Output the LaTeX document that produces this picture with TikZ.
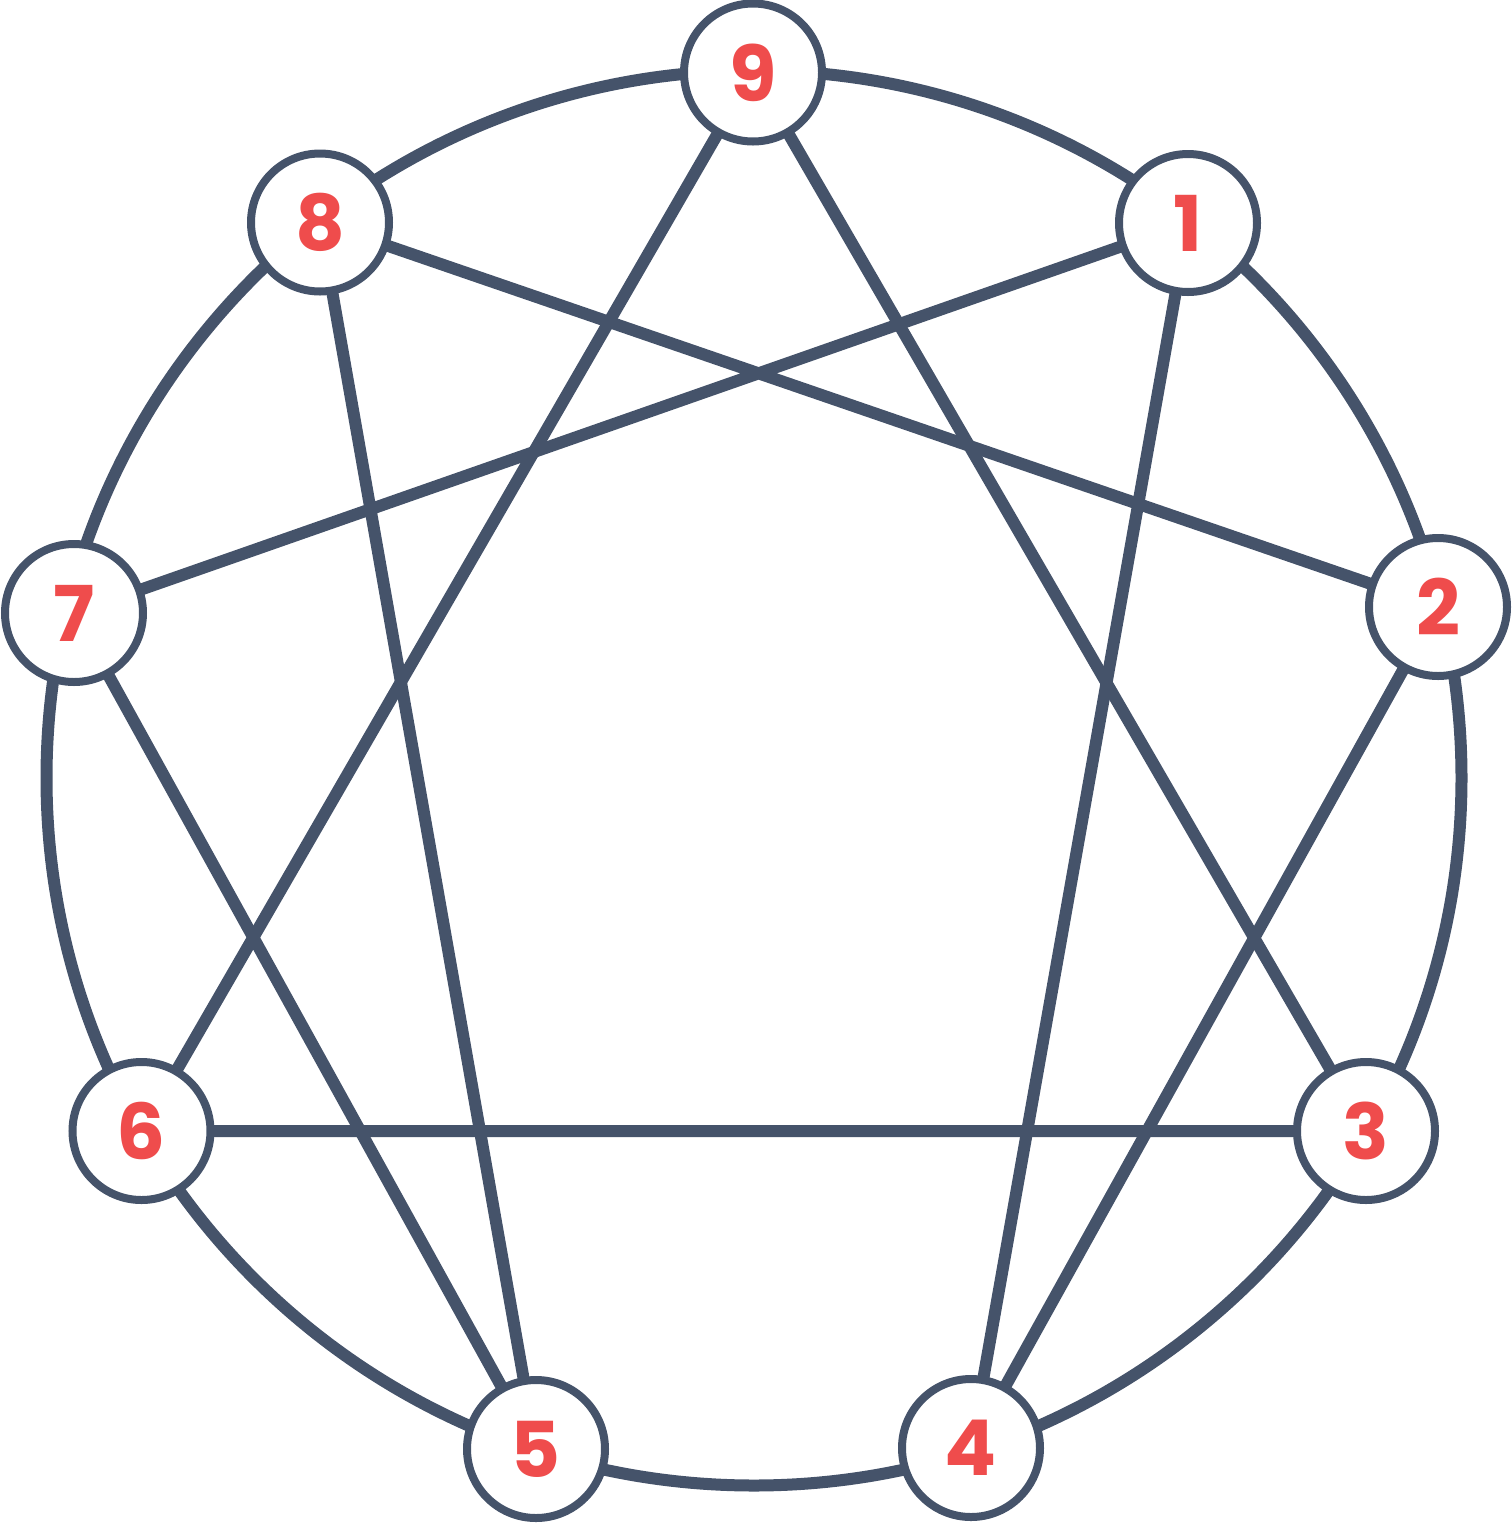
\documentclass[tikz,border=0pt]{standalone}
\usepackage{fontspec}
\setmainfont{Poppins}
\usetikzlibrary{backgrounds}
\definecolor{ink}{HTML}{45536A}
\definecolor{numred}{HTML}{EF4C4C}
\begin{document}
\begin{tikzpicture}[x=1pt,y=-1pt,
  pt/.style={circle, draw=ink, line width=8pt, fill=white, minimum size=138pt, inner sep=0pt, text=numred, font=\fontsize{77}{80}\selectfont\bfseries},
  edge/.style={draw=ink, line width=12pt}]
\useasboundingbox (0,0) rectangle (1512,1524);
\coordinate (c) at (754,778);
\node[pt] (n9) at (753,72.5) {9};
\node[pt] (n1) at (1188,223) {1};
\node[pt] (n2) at (1438,607) {2};
\node[pt] (n3) at (1366,1131) {3};
\node[pt] (n4) at (971,1448) {4};
\node[pt] (n5) at (536,1449) {5};
\node[pt] (n6) at (141.5,1131) {6};
\node[pt] (n7) at (74,613) {7};
\node[pt] (n8) at (320,222.5) {8};
\begin{scope}[on background layer]
\draw[edge] (c) circle[radius=707.5pt];
\draw[edge] (n9.center) -- (n6.center) -- (n3.center) -- cycle;
\draw[edge] (n1.center) -- (n4.center) -- (n2.center) -- (n8.center) -- (n5.center) -- (n7.center) -- cycle;
\end{scope}
\end{tikzpicture}
\end{document}
